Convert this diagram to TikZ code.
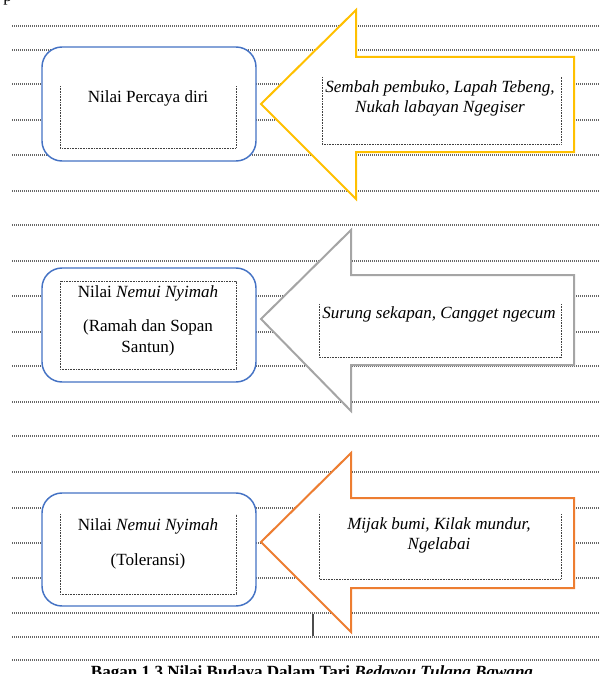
\documentclass[tikz,border=0pt]{standalone}
\usepackage{fontspec}
\setmainfont{Liberation Serif}
\definecolor{boxblue}{HTML}{4472C4}
\definecolor{arrYellow}{HTML}{FFC000}
\definecolor{arrGray}{HTML}{A5A5A5}
\definecolor{arrOrange}{HTML}{ED7D31}
\begin{document}
\begin{tikzpicture}[x=0.75pt,y=-0.75pt,
  bgline/.style={draw=black!60,line width=1pt,dash pattern=on 0.75pt off 0.75pt},
  valbox/.style={draw=boxblue,line width=1.1pt,fill=white,rounded corners=15pt},
  arrowshape/.style={line width=1.5pt,fill=white,line join=miter},
  dotbox/.style={draw=black!75,line width=0.6pt,dash pattern=on 0.6pt off 0.6pt},
  txt/.style={font=\fontsize{12.8}{15}\selectfont,anchor=base,inner sep=0pt},
  captxt/.style={font=\fontsize{12.8}{15}\selectfont\bfseries,anchor=base,inner sep=0pt}]
\useasboundingbox (0,0) rectangle (600,674);
% fragment of text above
\node[txt,anchor=base west] (frag) at (3,1.5) {p};
% background lines
\foreach \yy in {26,50,84,120,155,191,225,261,296,332,366,402,436,472,508,543,578,613,637,660}
  \draw[bgline] (12,\yy) -- (600,\yy);
\coordinate (vt) at (313,614);
\coordinate (vb) at (313,636);
\draw[black!70,line width=0.8pt] (vt) -- (vb);

% ---- row 1
\draw[valbox] (42,47) rectangle (256,161);
\draw[dotbox] (60,86) -- (60,148) -- (236,148) -- (236,86);
\node[txt] (v1) at (148,103) {Nilai Percaya diri};
\draw[arrowshape,draw=arrYellow] (261,104) -- (356,10) -- (356,57) -- (574,57) -- (574,152) -- (356,152) -- (356,199) -- cycle;
\draw[dotbox] (322,77) -- (322,144) -- (561,144) -- (561,77);
\node[txt] (a1a) at (440,93) {\itshape Sembah pembuko, Lapah Tebeng,};
\node[txt] (a1b) at (440,113) {\itshape Nukah labayan Ngegiser};

% ---- row 2
\draw[valbox] (42,268) rectangle (256,382);
\draw[dotbox] (60,281) rectangle (236,369);
\node[txt] (v2a) at (148,297) {Nilai \textit{Nemui Nyimah}};
\node[txt] (v2b) at (148,331) {(Ramah dan Sopan};
\node[txt] (v2c) at (148,352) {Santun)};
\draw[arrowshape,draw=arrGray] (261,319) -- (351,230) -- (351,275) -- (574,275) -- (574,365) -- (351,365) -- (351,411) -- cycle;
\draw[dotbox] (319,304) -- (319,357) -- (561,357) -- (561,304);
\node[txt] (a2) at (439,318) {\itshape Surung sekapan, Cangget ngecum};

% ---- row 3
\draw[valbox] (42,493) rectangle (256,606);
\draw[dotbox] (60,514) -- (60,594) -- (236,594) -- (236,514);
\node[txt] (v3a) at (148,530) {Nilai \textit{Nemui Nyimah}};
\node[txt] (v3b) at (148,565) {(Toleransi)};
\draw[arrowshape,draw=arrOrange] (261,542) -- (351,453) -- (351,498) -- (574,498) -- (574,588) -- (351,588) -- (351,632) -- cycle;
\draw[dotbox] (319,514) -- (319,579) -- (561,579) -- (561,514);
\node[txt] (a3a) at (439,529) {\itshape Mijak bumi, Kilak mundur,};
\node[txt] (a3b) at (439,549) {\itshape Ngelabai};

% caption
\node[captxt] (cap) at (312,677) {Bagan 1.3 Nilai Budaya Dalam Tari \textit{Bedayou Tulang Bawang}};
\end{tikzpicture}
\end{document}
